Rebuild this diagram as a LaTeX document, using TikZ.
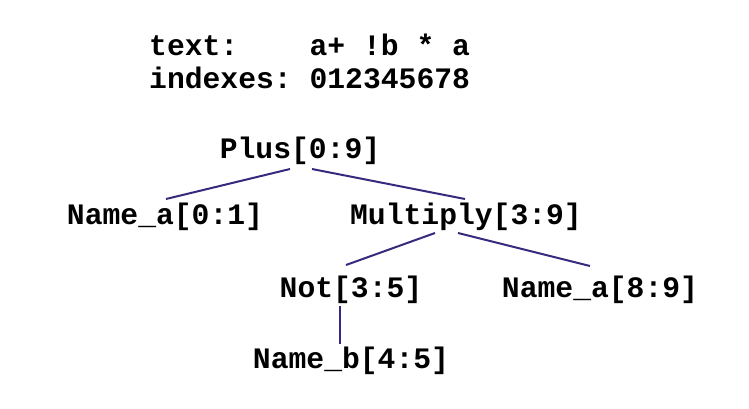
\documentclass[tikz,border=0pt]{standalone}
\usepackage{fontspec}
\setmonofont{Liberation Mono}
\definecolor{edgecol}{RGB}{55,42,125}
\begin{document}
\begin{tikzpicture}[x=1pt,y=1pt,
  lbl/.style={font=\ttfamily\bfseries\fontsize{29.7}{33}\selectfont,inner sep=0pt,anchor=base},
  edge/.style={draw=edgecol,line width=2pt}]
\useasboundingbox (0,0) rectangle (749,-408);
\node[lbl,anchor=base west] (txt) at (149,-55) {text:~~~~a+~!b~*~a};
\node[lbl,anchor=base west] (idx) at (149,-88) {indexes:~012345678};
\node[lbl] (plus) at (300,-158) {Plus[0:9]};
\node[lbl] (na) at (165,-224) {Name\_a[0:1]};
\node[lbl] (mul) at (466,-224) {Multiply[3:9]};
\node[lbl] (not) at (351,-297) {Not[3:5]};
\node[lbl] (na2) at (600,-297) {Name\_a[8:9]};
\node[lbl] (nb) at (351,-368) {Name\_b[4:5]};
\draw[edge] ([xshift=-10pt,yshift=-11pt]plus.base) -- ([xshift=1pt,yshift=25pt]na.base);
\draw[edge] ([xshift=12pt,yshift=-11pt]plus.base) -- ([xshift=-1pt,yshift=25pt]mul.base);
\draw[edge] ([xshift=-31pt,yshift=-9pt]mul.base) -- ([xshift=-5pt,yshift=32pt]not.base);
\draw[edge] ([xshift=-8pt,yshift=-9pt]mul.base) -- ([xshift=-10pt,yshift=31pt]na2.base);
\draw[edge] ([xshift=-11pt,yshift=-9pt]not.base) -- ([xshift=-11pt,yshift=24pt]nb.base);
\end{tikzpicture}
\end{document}
